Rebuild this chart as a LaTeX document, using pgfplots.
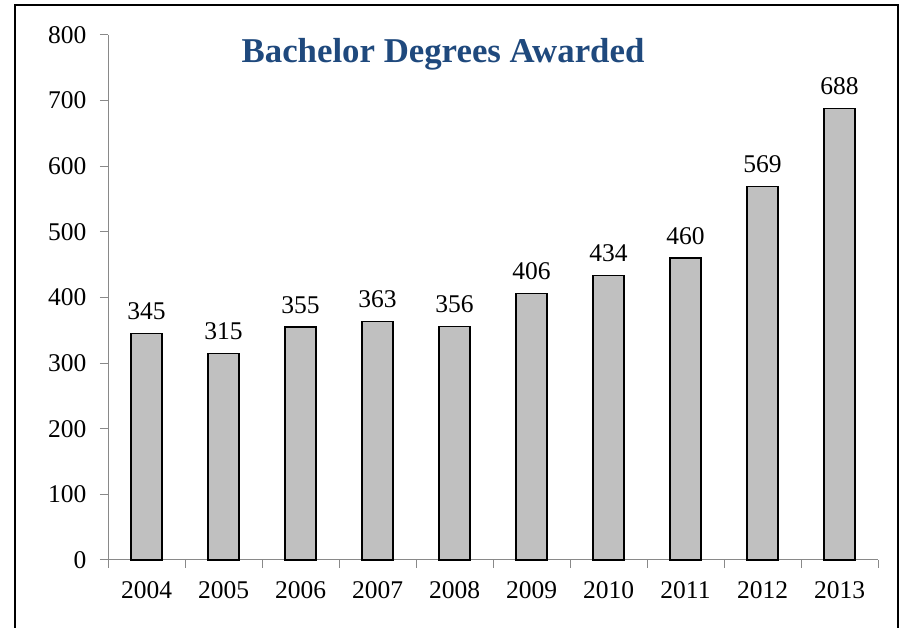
\documentclass[border=0pt]{standalone}
\usepackage{fontspec}
\setmainfont{Liberation Serif}
\usepackage{pgfplots}
\pgfplotsset{compat=1.18}
\definecolor{barfill}{RGB}{192,192,192}
\definecolor{axgray}{RGB}{137,137,137}
\definecolor{titleblue}{RGB}{31,73,125}
\begin{document}
\begin{tikzpicture}[x=1pt,y=1pt]
\useasboundingbox (0,0) rectangle (902,628);
\fill[white] (0,0) rectangle (902,628);
\draw[black, line width=1.6pt] (15,-10) rectangle (898,623);
\begin{axis}[
  at={(108pt,68pt)}, anchor=south west,
  width=770pt, height=525pt, scale only axis,
  xmin=-0.5, xmax=9.5, ymin=0, ymax=800,
  axis x line=bottom, axis y line=left,
  axis line style={-, draw=axgray, line width=1pt},
  xtick={0,...,9},
  xticklabels={2004,2005,2006,2007,2008,2009,2010,2011,2012,2013},
  major x tick style={draw=none},
  minor xtick={-0.5,0.5,...,9.5},
  minor tick length=8pt,
  minor x tick style={draw=axgray, line width=1pt},
  ytick={0,100,...,800},
  yticklabels={0,100,200,300,400,500,600,700,800},
  y tick style={draw=axgray, line width=1pt},
  major tick length=8pt,
  tick align=outside,
  tick label style={font=\fontsize{25.5}{30}\selectfont, text=black},
  xticklabel style={yshift=-10pt},
  yticklabel style={xshift=-10pt},
  /pgf/number format/assume math mode=true,
  ybar, bar width=31pt,
  nodes near coords,
  nodes near coords style={font=\fontsize{25.5}{30}\selectfont, text=black, anchor=base, yshift=14pt},
  clip=false,
]
\addplot[fill=barfill, draw=black, line width=1.3pt] coordinates {
(0,345) (1,315) (2,355) (3,363) (4,356) (5,406) (6,434) (7,460) (8,569) (9,688)};
\end{axis}
\node[anchor=base, text=titleblue, font=\fontsize{34.8}{40}\selectfont\bfseries] at (443,565) {Bachelor Degrees Awarded};
\end{tikzpicture}
\end{document}
